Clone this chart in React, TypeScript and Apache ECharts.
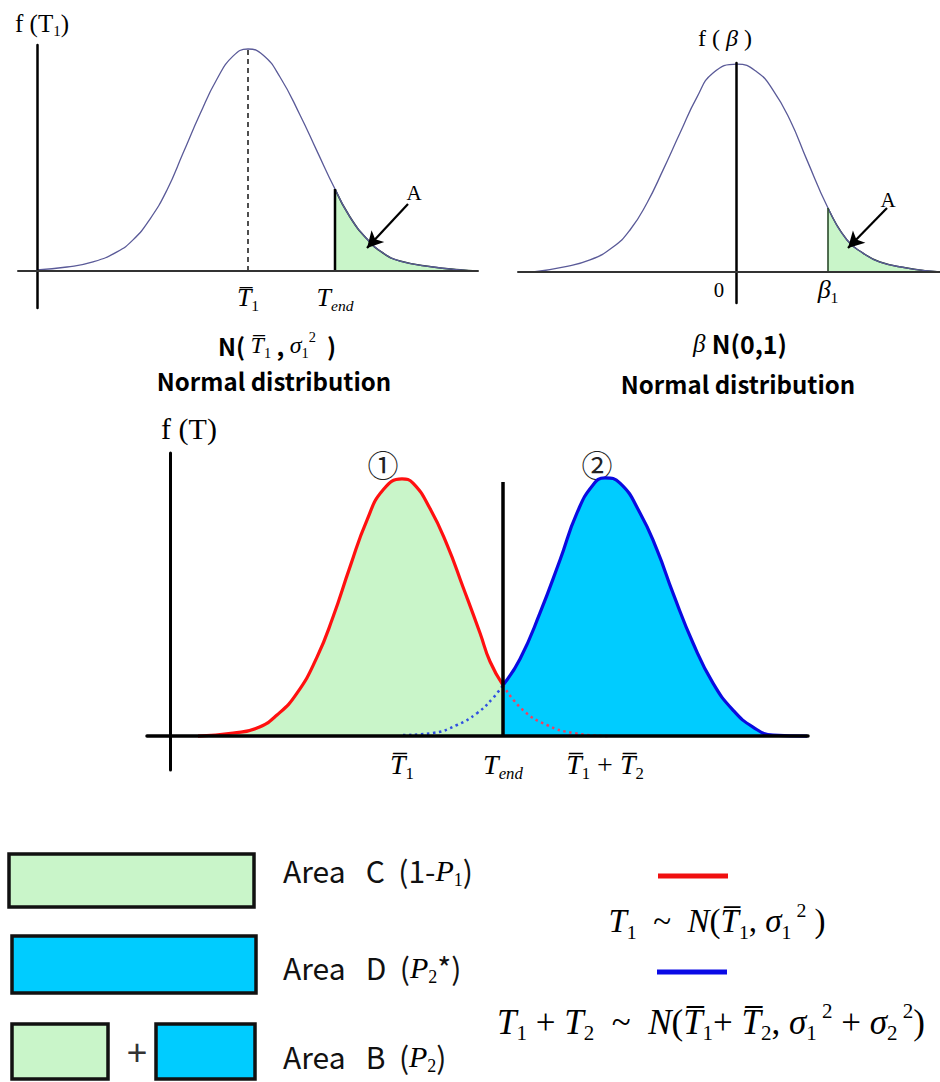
import React, { useEffect, useRef } from 'react';
import * as echarts from 'echarts';

const SERIF = '"Liberation Serif", "Times New Roman", serif';
const SANS = '"Noto Sans CJK KR", "Noto Sans", sans-serif';
const CJK = '"Noto Sans CJK JP", "Noto Sans CJK KR", sans-serif';
const OL = '\u0305';

const GREEN = '#c9f5c9';
const CYAN = '#00ccff';
const RED = '#ff1010';
const BLUE = '#0a0ae0';
const CURVE = '#5a5a98';

// ---------- Top-left: f(T1) ----------
const tlCurve: [number, number][] = [
  [0, 0.005], [3.0, 0.018], [5.6, 0.041], [8.0, 0.086], [9.6, 0.14], [11.3, 0.234],
  [13.0, 0.365], [14.6, 0.53], [16.3, 0.707], [18.0, 0.865], [19.6, 0.968], [21.1, 1.0],
  [22.6, 0.973], [24.3, 0.874], [26.3, 0.703], [28.0, 0.54], [29.8, 0.369], [31.3, 0.243],
  [33.0, 0.144], [34.6, 0.081], [36.3, 0.045], [39.6, 0.018], [42.3, 0.005], [44.0, 0],
];
const tlMean = 21.1;
const tlMeanHeight = 1.0;
const tlTend = 29.8;
const tlTendHeight = 0.369;
const tlTickValues = [21.1, 29.8];
const tlTickLabels = [`{it|T${OL}}{sub|1}`, '{it|T}{subi|end}'];
const tlArrow: [number, number][] = [[37.1, 0.302], [33.0, 0.104]];

// ---------- Top-right: f(beta) ----------
const trCurve: [number, number][] = [
  [-20.3, 0], [-17.3, 0.024], [-14.6, 0.058], [-12.3, 0.12], [-10.6, 0.202], [-8.9, 0.332],
  [-7.3, 0.49], [-5.6, 0.668], [-3.9, 0.841], [-2.3, 0.957], [0.1, 1.0], [2.1, 0.962],
  [3.7, 0.875], [5.4, 0.731], [7.1, 0.538], [9.2, 0.308], [11.1, 0.154], [12.7, 0.091],
  [14.4, 0.048], [17.1, 0.019], [19.2, 0.005], [20.4, 0],
];
const trBeta1 = 9.2;
const trBeta1Height = 0.308;
const trTickValues = [0, 9.2];
const trTickLabels = ['{zero|0}', '{it|β}{sub|1}'];
const trArrow: [number, number][] = [[15.1, 0.308], [11.2, 0.115]];

// ---------- Middle: f(T) ----------
const mRed: [number, number][] = [
  [2.8, 0], [6.3, 0.012], [8.7, 0.031], [10.7, 0.082], [12.7, 0.167], [14.7, 0.307],
  [16.3, 0.463], [18.0, 0.658], [19.7, 0.84], [21.3, 0.957], [23.2, 1.0], [24.3, 0.984],
  [26.0, 0.885], [27.7, 0.745], [29.3, 0.58], [31.0, 0.401], [32.0, 0.29], [33.3, 0.198],
];
const mRedTail: [number, number][] = [
  [33.3, 0.198], [35.3, 0.101], [37.7, 0.043], [40.3, 0.012], [43.8, 0],
];
const mBlueHead: [number, number][] = [
  [23.3, 0.004], [26.3, 0.012], [28.7, 0.043], [30.7, 0.089], [32.3, 0.148], [33.3, 0.198],
];
const mBlue: [number, number][] = [
  [33.3, 0.198], [35.0, 0.3], [37.0, 0.479], [39.0, 0.685], [40.7, 0.868], [42.3, 0.977],
  [43.5, 1.004], [45.0, 0.984], [47.0, 0.868], [48.7, 0.724], [50.3, 0.556], [52.3, 0.362],
  [54.3, 0.206], [56.3, 0.101], [58.3, 0.035], [60.3, 0.004], [63.7, 0],
];
const mTend = 33.3;
const mTendTop = 0.988;
const mTickValues = [23.2, 33.3, 43.5];
const mTickLabels = [
  `{it|T${OL}}{sub|1}`,
  '{it|T}{subi|end}',
  `{it|T${OL}}{sub|1}{n| + }{it|T${OL}}{sub|2}`,
];

// ---------- rich text helpers ----------
function labelRich(size: number) {
  return {
    it: { fontFamily: SERIF, fontStyle: 'italic', fontSize: size, lineHeight: size * 1.25, color: '#000' },
    n: { fontFamily: SERIF, fontSize: size, lineHeight: size * 1.25, color: '#000' },
    sub: { fontFamily: SERIF, fontSize: size * 0.6, lineHeight: size * 0.6, verticalAlign: 'bottom', color: '#000' },
    subi: { fontFamily: SERIF, fontStyle: 'italic', fontSize: size * 0.6, lineHeight: size * 0.6, verticalAlign: 'bottom', color: '#000' },
    zero: { fontFamily: SERIF, fontSize: size * 0.8, lineHeight: size * 1.25, color: '#000', padding: [0, 34, 0, 0] },
  };
}

function gRich(size: number) {
  return {
    it: { fontFamily: SERIF, fontStyle: 'italic', fontSize: size, lineHeight: size * 1.25, fill: '#000' },
    n: { fontFamily: SERIF, fontSize: size, lineHeight: size * 1.25, fill: '#000' },
    sub: { fontFamily: SERIF, fontSize: size * 0.6, lineHeight: size * 0.6, verticalAlign: 'bottom', fill: '#000' },
    sup: { fontFamily: SERIF, fontSize: size * 0.6, lineHeight: size * 0.8, verticalAlign: 'top', fill: '#000' },
    b: { fontFamily: SANS, fontWeight: 'bold', fontSize: size, lineHeight: size * 1.25, fill: '#000' },
    s: { fontFamily: SANS, fontSize: size, lineHeight: size * 1.25, fill: '#111' },
  };
}

function gText(x: number, y: number, text: string, size: number, align = 'center') {
  return {
    type: 'text',
    x,
    y,
    silent: true,
    style: { text, rich: gRich(size), align, verticalAlign: 'middle', fill: '#000' },
  };
}

function xAx(gridIndex: number, min: number, max: number, width: number, color: string,
  values: number[], labels: string[], margin: number, size: number) {
  return {
    type: 'value', gridIndex, min, max, z: 5,
    axisLine: { show: true, onZero: true, lineStyle: { color, width } },
    axisTick: { show: false },
    splitLine: { show: false },
    axisLabel: {
      show: true,
      customValues: values,
      margin,
      formatter: (v: number) => labels[values.indexOf(v)] ?? '',
      rich: labelRich(size),
    },
  };
}

function yAx(gridIndex: number, min: number, max: number, width: number) {
  return {
    type: 'value', gridIndex, min, max, z: 5,
    axisLine: { show: true, onZero: true, lineStyle: { color: '#000', width } },
    axisTick: { show: false },
    axisLabel: { show: false },
    splitLine: { show: false },
  };
}

function arrowLine(pts: [number, number][]) {
  return {
    silent: true,
    symbol: ['none', 'arrow'],
    symbolSize: [13, 16],
    label: { show: false },
    lineStyle: { color: '#000', width: 2.2, type: 'solid' },
    data: [[{ coord: pts[0] }, { coord: pts[1] }]],
  };
}

function buildOption() {
  const tlTail = tlCurve.filter((p) => p[0] >= tlTend);
  const trTail = trCurve.filter((p) => p[0] >= trBeta1);
  const base = { type: 'line', showSymbol: false, symbol: 'none', silent: true, animation: false };
  const SM = 0.5;
  return {
    animation: false,
    backgroundColor: '#fff',
    grid: [
      { left: 18, top: 45, width: 460, height: 263 },
      { left: 518, top: 63, width: 422, height: 240 },
      { left: 147, top: 453, width: 661, height: 317 },
    ],
    xAxis: [
      xAx(0, -1.9, 44.1, 2, '#333', tlTickValues, tlTickLabels, -27, 26),
      xAx(1, -21.8, 20.4, 2, '#333', trTickValues, trTickLabels, -30, 26),
      xAx(2, -2.3, 63.8, 3.5, '#000', mTickValues, mTickLabels, -23, 28),
    ],
    yAxis: [
      yAx(0, -0.1667, 1.018, 2.5),
      yAx(1, -0.149, 1.005, 2.5),
      yAx(2, -0.132, 1.101, 3),
    ],
    series: [
      // top-left
      { ...base, xAxisIndex: 0, yAxisIndex: 0, data: tlTail, smooth: SM, z: 2,
        lineStyle: { color: '#1c3a1c', width: 1.6 }, areaStyle: { color: GREEN, opacity: 1 } },
      { ...base, xAxisIndex: 0, yAxisIndex: 0, data: tlCurve, smooth: SM, z: 3,
        lineStyle: { color: CURVE, width: 1.3 }, markLine: arrowLine(tlArrow) },
      { ...base, xAxisIndex: 0, yAxisIndex: 0, data: [[tlMean, 0], [tlMean, tlMeanHeight]], z: 3,
        lineStyle: { color: '#222', width: 1.6, type: [5, 4] } },
      { ...base, xAxisIndex: 0, yAxisIndex: 0, data: [[tlTend, 0], [tlTend, tlTendHeight]], z: 4,
        lineStyle: { color: '#000', width: 2.5 } },
      // top-right
      { ...base, xAxisIndex: 1, yAxisIndex: 1, data: trTail, smooth: SM, z: 2,
        lineStyle: { color: '#1c3a1c', width: 1.4 }, areaStyle: { color: GREEN, opacity: 1 } },
      { ...base, xAxisIndex: 1, yAxisIndex: 1, data: trCurve, smooth: SM, z: 3,
        lineStyle: { color: CURVE, width: 1.3 }, markLine: arrowLine(trArrow) },
      { ...base, xAxisIndex: 1, yAxisIndex: 1, data: [[trBeta1, 0], [trBeta1, trBeta1Height]], z: 4,
        lineStyle: { color: '#2a4a2a', width: 1.6 } },
      // middle
      { ...base, xAxisIndex: 2, yAxisIndex: 2, data: mRed, smooth: SM, z: 2,
        lineStyle: { color: RED, width: 3.2 }, areaStyle: { color: GREEN, opacity: 1 } },
      { ...base, xAxisIndex: 2, yAxisIndex: 2, data: mBlue, smooth: SM, z: 2,
        lineStyle: { color: BLUE, width: 3.2 }, areaStyle: { color: CYAN, opacity: 1 } },
      { ...base, xAxisIndex: 2, yAxisIndex: 2, data: mRedTail, smooth: SM, z: 3,
        lineStyle: { color: '#f04060', width: 2.5, type: [2.5, 3.5] } },
      { ...base, xAxisIndex: 2, yAxisIndex: 2, data: mBlueHead, smooth: SM, z: 3,
        lineStyle: { color: '#3050e0', width: 2.5, type: [2.5, 3.5] } },
      { ...base, xAxisIndex: 2, yAxisIndex: 2, data: [[mTend, 0], [mTend, mTendTop]], z: 4,
        lineStyle: { color: '#000', width: 3.5 } },
    ],
    graphic: [
      // top-left annotations
      gText(42, 23, '{n|f (T}{sub|1}{n|)}', 25),
      gText(414, 193, '{n|A}', 21),
      gText(277, 345, `{b|N( }{it|T${OL}}{sub|1}{b| , }{it|σ}{sub|1}{sup|2}{b|  )}`, 24),
      gText(274, 380, '{b|Normal distribution}', 24),
      // top-right annotations
      gText(725, 38, '{n|f ( }{it|β}{n| )}', 24),
      gText(888, 200, '{n|A}', 21),
      gText(740, 343, '{it|β }{b|N(0,1)}', 25),
      gText(738, 383, '{b|Normal distribution}', 24),
      // middle annotations
      gText(189, 428, '{n|f (T)}', 30),
      { type: 'text', x: 383, y: 463, silent: true,
        style: { text: '①', font: `31px ${CJK}`, fill: '#222', align: 'center', verticalAlign: 'middle' } },
      { type: 'text', x: 597, y: 463, silent: true,
        style: { text: '②', font: `31px ${CJK}`, fill: '#222', align: 'center', verticalAlign: 'middle' } },
      // legend boxes
      { type: 'rect', silent: true, shape: { x: 9, y: 854, width: 245, height: 53 },
        style: { fill: GREEN, stroke: '#111', lineWidth: 3.5 } },
      { type: 'rect', silent: true, shape: { x: 12, y: 936, width: 244, height: 57 },
        style: { fill: CYAN, stroke: '#111', lineWidth: 3.5 } },
      { type: 'rect', silent: true, shape: { x: 12, y: 1024, width: 96, height: 55 },
        style: { fill: GREEN, stroke: '#111', lineWidth: 3.5 } },
      { type: 'rect', silent: true, shape: { x: 156, y: 1024, width: 99, height: 55 },
        style: { fill: CYAN, stroke: '#111', lineWidth: 3.5 } },
      { type: 'text', x: 137, y: 1050, silent: true,
        style: { text: '+', font: `36px ${SANS}`, fill: '#333', align: 'center', verticalAlign: 'middle' } },
      gText(283, 870, '{s|Area   C  (1-}{it|P}{sub|1}{s|)}', 30, 'left'),
      gText(283, 967, '{s|Area   D  (}{it|P}{sub|2}{s|*)}', 30, 'left'),
      gText(283, 1056, '{s|Area   B  (}{it|P}{sub|2}{s|)}', 30, 'left'),
      // legend lines and formulas
      { type: 'line', silent: true, shape: { x1: 658, y1: 876, x2: 728, y2: 876 },
        style: { stroke: '#f01010', lineWidth: 5 } },
      { type: 'line', silent: true, shape: { x1: 657, y1: 972, x2: 727, y2: 972 },
        style: { stroke: '#0a0ae6', lineWidth: 5 } },
      gText(717, 921, `{it|T}{sub|1}{n|  ~  }{it|N}{n|(}{it|T${OL}}{sub|1}{n|, }{it|σ}{sub|1}{sup| 2}{n| )}`, 33),
      gText(711, 1022, `{it|T}{sub|1}{n| + }{it|T}{sub|2}{n|  ~  }{it|N}{n|(}{it|T${OL}}{sub|1}{n|+ }{it|T${OL}}{sub|2}{n|, }{it|σ}{sub|1}{sup| 2}{n| + }{it|σ}{sub|2}{sup| 2}{n|)}`, 35),
    ],
  };
}

export default function App() {
  const ref = useRef<HTMLDivElement>(null);
  useEffect(() => {
    document.body.style.margin = '0';
    const chart = echarts.init(ref.current as HTMLDivElement, null, { renderer: 'svg' });
    chart.setOption(buildOption() as any);
    return () => chart.dispose();
  }, []);
  return <div ref={ref} style={{ width: 940, height: 1082, background: '#fff' }} />;
}
